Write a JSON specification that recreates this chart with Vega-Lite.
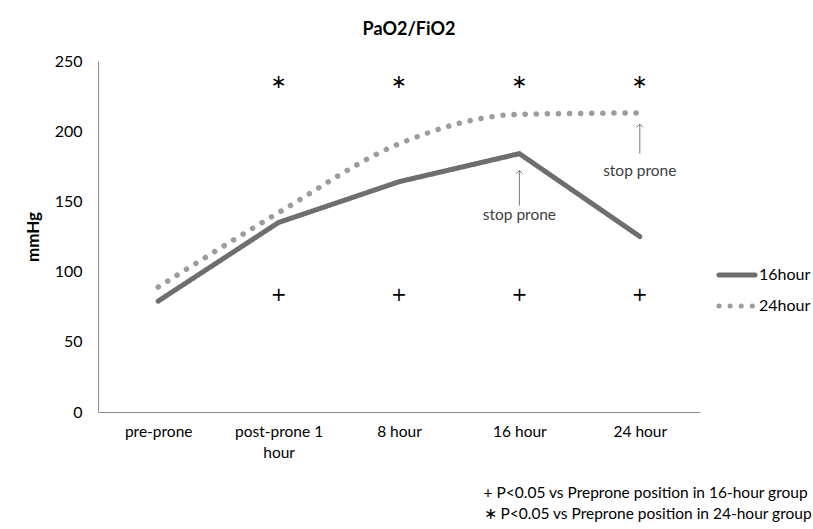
{
  "$schema": "https://vega.github.io/schema/vega-lite/v6.json",
  "width": 602,
  "height": 351,
  "autosize": {"type": "none"},
  "padding": {"left": 98, "top": 61, "right": 113, "bottom": 117},
  "background": "white",
  "config": {"font": "Lato", "view": {"stroke": null}},
  "title": {"text": "PaO2/FiO2", "fontSize": 18, "fontWeight": "bold", "font": "Lato", "color": "black", "offset": 14, "dx": 10},
  "datasets": {
    "s16": [
      {"time": "pre-prone", "value": 79, "group": "16hour"},
      {"time": "post-prone 1 hour", "value": 135, "group": "16hour"},
      {"time": "8 hour", "value": 164, "group": "16hour"},
      {"time": "16 hour", "value": 184, "group": "16hour"},
      {"time": "24 hour", "value": 125, "group": "16hour"}
    ],
    "s24": [
      {"time": "pre-prone", "value": 89, "group": "24hour"},
      {"time": "post-prone 1 hour", "value": 142, "group": "24hour"},
      {"time": "8 hour", "value": 191, "group": "24hour"},
      {"time": "16 hour", "value": 212, "group": "24hour"},
      {"time": "24 hour", "value": 213, "group": "24hour"}
    ],
    "sig": [
      {"time": "post-prone 1 hour", "value": 235, "label": "∗"},
      {"time": "8 hour", "value": 235, "label": "∗"},
      {"time": "16 hour", "value": 235, "label": "∗"},
      {"time": "24 hour", "value": 235, "label": "∗"},
      {"time": "post-prone 1 hour", "value": 83, "label": "+"},
      {"time": "8 hour", "value": 83, "label": "+"},
      {"time": "16 hour", "value": 83, "label": "+"},
      {"time": "24 hour", "value": 83, "label": "+"}
    ],
    "stops": [
      {"time": "16 hour", "text": 140, "from": 147, "tip": 172},
      {"time": "24 hour", "text": 172, "from": 184, "tip": 205}
    ]
  },
  "encoding": {
    "x": {
      "field": "time",
      "type": "nominal",
      "sort": ["pre-prone", "post-prone 1 hour", "8 hour", "16 hour", "24 hour"],
      "scale": {"type": "point", "padding": 0.5},
      "axis": {
        "labelAngle": 0,
        "ticks": false,
        "labelPadding": 12,
        "labelFontSize": 15.5,
        "labelColor": "black",
        "labelFont": "Lato",
        "labelExpr": "datum.value == 'post-prone 1 hour' ? ['post-prone 1', 'hour'] : datum.value",
        "labelLineHeight": 21,
        "domainColor": "#8c8c8c",
        "grid": false,
        "title": ["+ P<0.05 vs Preprone position in 16-hour group", "∗ P<0.05 vs Preprone position in 24-hour group"],
        "titleX": 385,
        "titleY": 73,
        "titleAlign": "left",
        "titleBaseline": "top",
        "titleFontSize": 15.5,
        "titleFontWeight": "normal",
        "titleColor": "black",
        "titleLineHeight": 21
      }
    },
    "y": {
      "type": "quantitative",
      "scale": {"domain": [0, 250]},
      "axis": {
        "values": [0, 50, 100, 150, 200, 250],
        "ticks": false,
        "grid": false,
        "labelPadding": 16,
        "labelFontSize": 16,
        "labelColor": "black",
        "domainColor": "#8c8c8c",
        "title": "mmHg",
        "titleFontSize": 17,
        "titleFontWeight": "bold",
        "titleColor": "black",
        "titlePadding": 12
      }
    }
  },
  "layer": [
    {
      "data": {"name": "s24"},
      "mark": {"type": "line", "interpolate": "monotone", "strokeWidth": 5.5, "strokeCap": "round", "strokeDash": [0.1, 9.5]},
      "encoding": {
        "y": {"field": "value"},
        "color": {
          "field": "group",
          "type": "nominal",
          "scale": {"domain": ["16hour", "24hour"], "range": ["#6e6e6e", "#9c9c9c"]},
          "legend": {
            "title": null,
            "orient": "none",
            "legendX": 618,
            "legendY": 193,
            "symbolType": "stroke",
            "symbolSize": 1300,
            "symbolStrokeWidth": 5,
            "labelFontSize": 16,
            "labelColor": "black",
            "labelOffset": 1,
            "rowPadding": -7,
            "encode": {"symbols": {"update": {"strokeCap": {"value": "round"}}}}
          }
        },
        "strokeDash": {
          "field": "group",
          "type": "nominal",
          "scale": {"domain": ["16hour", "24hour"], "range": [[1, 0], [0.1, 11]]}
        }
      }
    },
    {
      "data": {"name": "s16"},
      "mark": {"type": "line", "interpolate": "linear", "strokeWidth": 5, "strokeCap": "round"},
      "encoding": {
        "y": {"field": "value"},
        "color": {"field": "group", "type": "nominal"},
        "strokeDash": {"field": "group", "type": "nominal"}
      }
    },
    {
      "data": {"name": "sig"},
      "mark": {"type": "text", "font": "DejaVu Sans", "fontSize": 19, "color": "black", "baseline": "middle", "align": "center"},
      "encoding": {
        "y": {"field": "value"},
        "text": {"field": "label"}
      }
    },
    {
      "data": {"name": "stops"},
      "mark": {"type": "text", "fontSize": 15.5, "color": "#404040", "baseline": "middle", "align": "center"},
      "encoding": {
        "y": {"field": "text"},
        "text": {"value": "stop prone"}
      }
    },
    {
      "data": {"name": "stops"},
      "mark": {"type": "rule", "color": "#7a7a7a", "strokeWidth": 1},
      "encoding": {
        "y": {"field": "from"},
        "y2": {"field": "tip"}
      }
    },
    {
      "data": {"name": "stops"},
      "mark": {"type": "point", "shape": "M-1,1L0,0L1,1", "filled": false, "size": 40, "color": "#7a7a7a", "strokeWidth": 1, "opacity": 1},
      "encoding": {
        "y": {"field": "tip"}
      }
    }
  ]
}
